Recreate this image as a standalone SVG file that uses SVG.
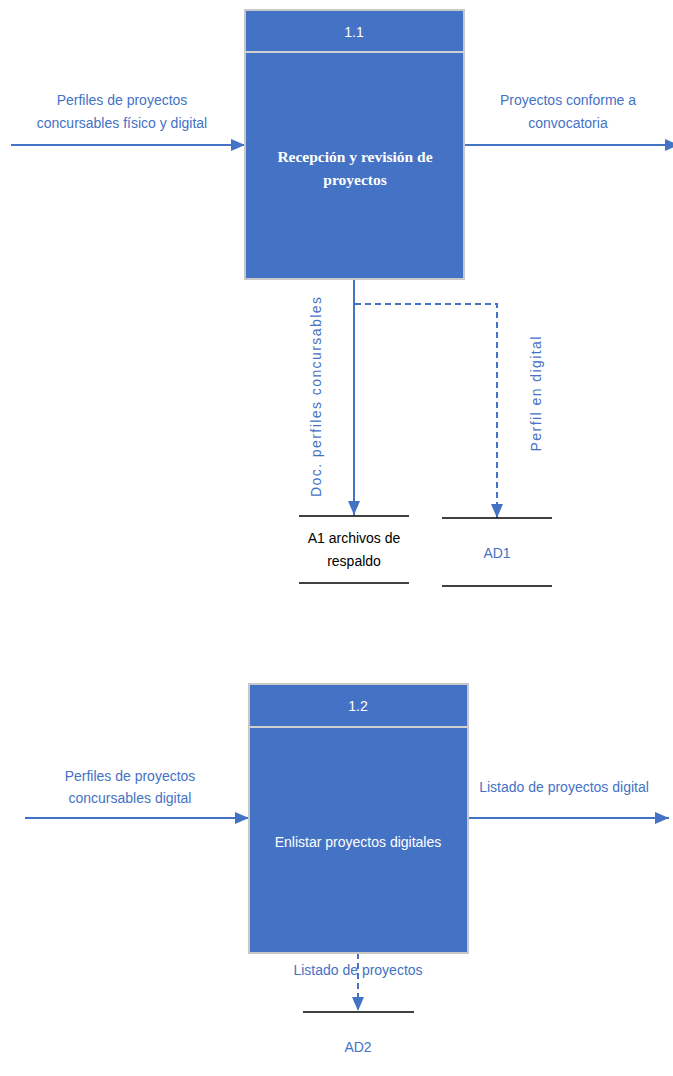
<svg xmlns="http://www.w3.org/2000/svg" width="673" height="1076" viewBox="0 0 673 1076">
<style>
.proc{fill:#4472C4;stroke:#C8C8C8;stroke-width:2}
.div{stroke:#D0D0D0;stroke-width:2}
.flow{stroke:#4472C4;stroke-width:2;fill:none}
.dash{stroke-dasharray:6,4}
.store{stroke:#000;stroke-width:1.5}
.lbl{font-family:"Liberation Sans",Arial,sans-serif;font-size:14px;fill:#4472C4;text-anchor:middle}
.wt{font-family:"Liberation Sans",Arial,sans-serif;font-size:14px;fill:#FFFFFF;text-anchor:middle}
.bt{font-family:"Liberation Serif","Times New Roman",serif;font-size:15.5px;font-weight:bold;fill:#FFFFFF;text-anchor:middle}
.bk{font-family:"Liberation Sans",Arial,sans-serif;font-size:14px;fill:#000;text-anchor:middle}
</style>
<defs>
<marker id="ah" viewBox="0 0 14 12" refX="14" refY="6" markerWidth="7" markerHeight="6" orient="auto" markerUnits="strokeWidth">
<path d="M0,0 L14,6 L0,12 z" fill="#4472C4"/>
</marker>
</defs>
<g id="connectors">
<line class="flow" x1="11" y1="145" x2="245" y2="145" marker-end="url(#ah)"/>
<line class="flow" x1="464" y1="145" x2="679" y2="145" marker-end="url(#ah)"/>
<line class="flow" x1="354" y1="279" x2="354" y2="515" marker-end="url(#ah)"/>
<polyline class="flow dash" points="355,304 497,304 497,518" marker-end="url(#ah)"/>
<line class="flow" x1="25" y1="818" x2="249" y2="818" marker-end="url(#ah)"/>
<line class="flow" x1="468" y1="818" x2="669" y2="818" marker-end="url(#ah)"/>
<line class="flow dash" x1="358" y1="953" x2="358" y2="1011" marker-end="url(#ah)"/>
<text class="lbl" x="122" y="105">Perfiles de proyectos</text>
<text class="lbl" x="122" y="128">concursables físico y digital</text>
<text class="lbl" x="568" y="105">Proyectos conforme a</text>
<text class="lbl" x="568" y="128">convocatoria</text>
<text class="lbl" transform="translate(321,397) rotate(-90)" textLength="200" lengthAdjust="spacing">Doc. perfiles concursables</text>
<text class="lbl" transform="translate(541,394) rotate(-90)" textLength="115" lengthAdjust="spacing">Perfil en digital</text>
<text class="lbl" x="130" y="781">Perfiles de proyectos</text>
<text class="lbl" x="130" y="803">concursables digital</text>
<text class="lbl" x="564" y="792">Listado de proyectos digital</text>
<text class="lbl" x="358" y="975">Listado de proyectos</text>
</g>
<g id="p1_1">
<rect class="proc" x="245" y="10" width="219" height="269"/>
<line class="div" x1="245" y1="52" x2="464" y2="52"/>
<text class="wt" x="354" y="37">1.1</text>
<text class="bt" x="355" y="162">Recepción y revisión de</text>
<text class="bt" x="355" y="185">proyectos</text>
</g>
<g id="p1_2">
<rect class="proc" x="249" y="684" width="219" height="269"/>
<line class="div" x1="249" y1="727" x2="468" y2="727"/>
<text class="wt" x="358" y="711">1.2</text>
<text class="wt" x="358" y="847">Enlistar proyectos digitales</text>
</g>
<g id="A1">
<line class="store" x1="299" y1="516" x2="409" y2="516"/>
<line class="store" x1="299" y1="583" x2="409" y2="583"/>
<text class="bk" x="354" y="543">A1  archivos de</text>
<text class="bk" x="354" y="566">respaldo</text>
</g>
<g id="AD1">
<line class="store" x1="442" y1="518" x2="552" y2="518"/>
<line class="store" x1="442" y1="586" x2="552" y2="586"/>
<text class="lbl" x="497" y="558">AD1</text>
</g>
<g id="AD2">
<line class="store" x1="303" y1="1012" x2="414" y2="1012"/>
<text class="lbl" x="358" y="1052">AD2</text>
</g>
</svg>
